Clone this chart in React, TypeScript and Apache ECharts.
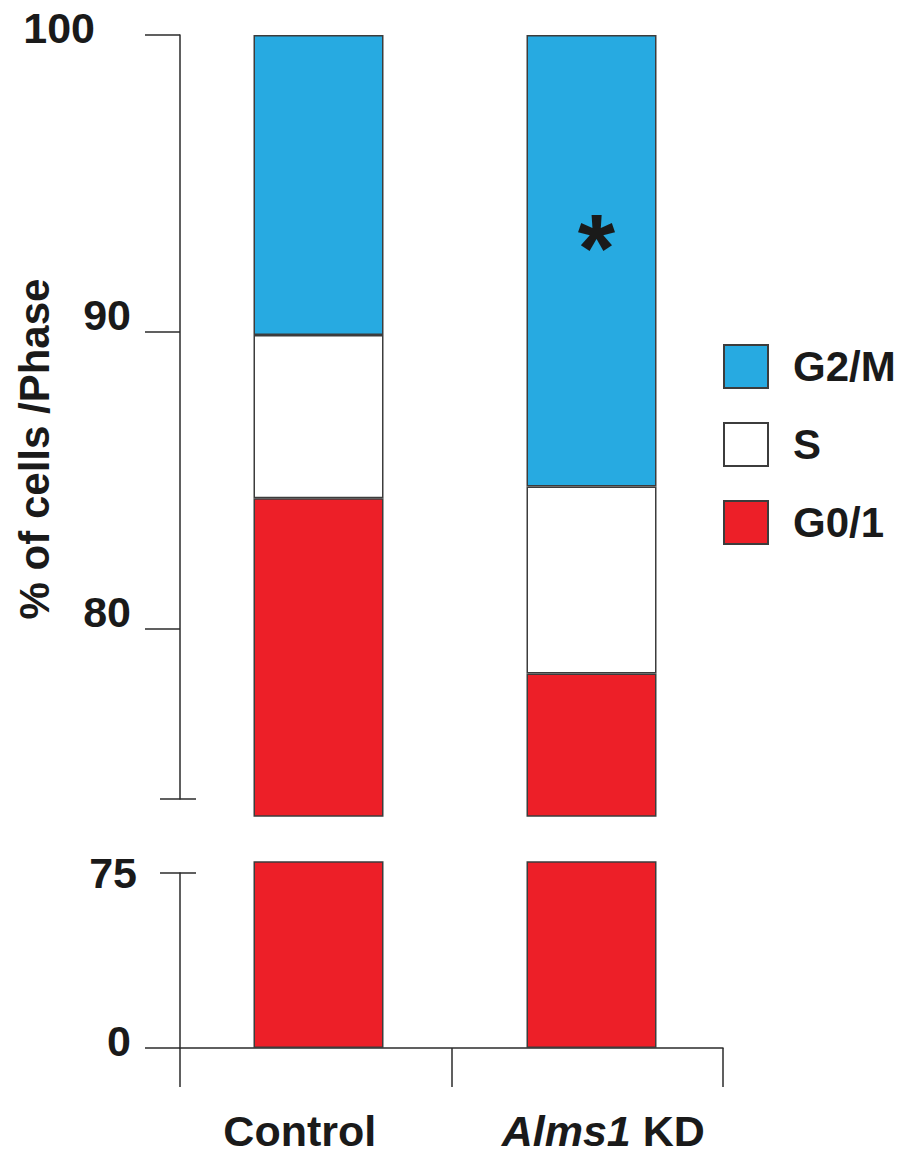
import React, { useEffect, useRef } from 'react';
import * as echarts from 'echarts';

// ---------- data ----------
const categories = ['Control', 'Alms1 KD'];
const phaseNames = ['G2/M', 'S', 'G0/1'];
const g01Values = [84.4, 78.5];
const sValues = [5.5, 6.3];
const g2mValues = [10.1, 15.2];
const significance = ['', '*'];
const upperTicks = [80, 90, 100];
const lowerTicks = [0, 75];
const lowerBreak = 78; // value where the lower panel is cut off

// ---------- style / geometry ----------
const FONT = '"Liberation Sans", Arial, Helvetica, sans-serif';
const INK = '#1a1a1a';
const LINE = '#2b2b2b';
const BORDER = '#3c3c3c';
const COLORS: Record<string, string> = { 'G2/M': '#27AAE1', S: '#FFFFFF', 'G0/1': '#ED1F28' };

const W = 901;
const H = 1157;
const axisLeft = 180;
const axisRight = 178;
const barLeft = 182;
const barRight = 173;

const upperMax = upperTicks[upperTicks.length - 1];
const upperTop = 35;
const upperAxisH = 764;
const upperBarH = 781;
const upperPx = 29.7;
const upperAxisMin = upperMax - upperAxisH / upperPx;
const upperBarMin = upperMax - upperBarH / upperPx;

const lowerAxisTop = 873;
const lowerAxisH = 175;
const lowerBarTop = 862;
const lowerBarH = 186;
const lowerAxisMax = lowerTicks[lowerTicks.length - 1];

const lineStyle = { color: LINE, width: 1.5 };
const numText = { fontSize: 43, fontWeight: 'bold' as const, fontFamily: FONT, color: INK, lineHeight: 43 };

function tickOnly(gridIndex: number, min: number, max: number, value: number, inside: boolean, length: number) {
  return {
    type: 'value', gridIndex, min, max, position: 'left',
    axisLine: { show: false },
    axisLabel: { show: false },
    splitLine: { show: false },
    axisTick: { show: true, inside, length, customValues: [value], lineStyle },
  };
}

function hiddenY(gridIndex: number, min: number, max: number) {
  return { type: 'value', gridIndex, min, max, show: false, splitLine: { show: false } };
}

function hiddenX(gridIndex: number) {
  return { type: 'category', gridIndex, data: categories, show: false };
}

const barBase = { type: 'bar', barWidth: 130, itemStyle: { borderColor: BORDER, borderWidth: 1.5 } };

export default function App() {
  const ref = useRef<HTMLDivElement>(null);
  useEffect(() => {
    document.body.style.margin = '0';
    if (!ref.current) return;
    const chart = echarts.init(ref.current, null, { renderer: 'svg' });
    const option: any = {
      animation: false,
      backgroundColor: '#ffffff',
      grid: [
        { left: axisLeft, right: axisRight, top: upperTop, height: upperAxisH, outerBoundsMode: 'none' },
        { left: barLeft, right: barRight, top: upperTop, height: upperBarH, outerBoundsMode: 'none' },
        { left: axisLeft, right: axisRight, top: lowerAxisTop, height: lowerAxisH, outerBoundsMode: 'none' },
        { left: barLeft, right: barRight, top: lowerBarTop, height: lowerBarH, outerBoundsMode: 'none' },
      ],
      xAxis: [
        hiddenX(0),
        hiddenX(1),
        {
          type: 'category', gridIndex: 2, data: categories, position: 'bottom', boundaryGap: true,
          axisLine: { show: true, lineStyle },
          axisTick: { show: true, length: 39, lineStyle },
          axisLabel: {
            margin: 61,
            interval: 0,
            formatter: (v: string) => {
              const parts = v.split(' ');
              if (parts.length === 1) return `{c|${v}}`;
              return `{i|${parts[0]}}{b| ${parts.slice(1).join(' ')}}`;
            },
            rich: {
              c: { ...numText, padding: [0, 32, 0, 0] },
              i: { ...numText, fontStyle: 'italic', padding: [0, 0, 0, 32] },
              b: { ...numText },
            },
          },
        },
        hiddenX(3),
      ],
      yAxis: [
        {
          type: 'value', gridIndex: 0, min: upperAxisMin, max: upperMax, position: 'left',
          axisLine: { show: true, lineStyle },
          axisTick: { show: true, length: 35, customValues: upperTicks, lineStyle },
          splitLine: { show: false },
          axisLabel: {
            show: true, customValues: upperTicks, margin: 49,
            formatter: (v: number) => (v === upperMax ? `{t|${v}}` : `{n|${v}}`),
            rich: {
              t: { ...numText, padding: [0, 36, 15, 0] },
              n: { ...numText, padding: [0, 0, 34, 0] },
            },
          },
        },
        tickOnly(0, upperAxisMin, upperMax, upperAxisMin, false, 20),
        tickOnly(0, upperAxisMin, upperMax, upperAxisMin, true, 16),
        hiddenY(1, upperBarMin, upperMax),
        {
          type: 'value', gridIndex: 2, min: 0, max: lowerAxisMax, position: 'left',
          axisLine: { show: true, lineStyle },
          axisTick: { show: true, length: 35, customValues: [lowerTicks[0]], lineStyle },
          splitLine: { show: false },
          axisLabel: {
            show: true, customValues: lowerTicks, margin: 43,
            formatter: (v: number) => (v === 0 ? `{z|${v}}` : `{n|${v}}`),
            rich: {
              z: { ...numText, padding: [0, 6, 14, 0] },
              n: { ...numText },
            },
          },
        },
        tickOnly(2, 0, lowerAxisMax, lowerAxisMax, false, 20),
        tickOnly(2, 0, lowerAxisMax, lowerAxisMax, true, 16),
        hiddenY(3, 0, lowerBreak),
      ],
      legend: {
        data: phaseNames,
        orient: 'vertical',
        left: 718,
        top: 339,
        itemWidth: 44,
        itemHeight: 43,
        itemGap: 33,
        icon: 'rect',
        selectedMode: false,
        textStyle: { ...numText, fontSize: 42, padding: [0, 0, 0, 20] },
      },
      graphic: [
        {
          type: 'text', x: 34, y: 449, rotation: Math.PI / 2,
          style: {
            text: '% of cells /Phase', fontSize: 42, fontWeight: 'bold', fontFamily: FONT,
            fill: INK, align: 'center', verticalAlign: 'middle',
          },
        },
      ],
      series: [
        {
          ...barBase, name: 'G0/1', stack: 'upper', xAxisIndex: 1, yAxisIndex: 3, data: g01Values,
          itemStyle: { ...barBase.itemStyle, color: COLORS['G0/1'] },
        },
        {
          ...barBase, name: 'S', stack: 'upper', xAxisIndex: 1, yAxisIndex: 3, data: sValues,
          itemStyle: { ...barBase.itemStyle, color: COLORS.S },
        },
        {
          ...barBase, name: 'G2/M', stack: 'upper', xAxisIndex: 1, yAxisIndex: 3,
          itemStyle: { ...barBase.itemStyle, color: COLORS['G2/M'] },
          data: g2mValues.map((v, i) =>
            significance[i]
              ? {
                  value: v,
                  label: {
                    show: true, formatter: significance[i], position: 'inside', offset: [5, -13],
                    fontSize: 96, fontWeight: 'bold', fontFamily: FONT, color: INK,
                  },
                }
              : v
          ),
        },
        {
          ...barBase, name: 'G0/1', xAxisIndex: 3, yAxisIndex: 7, data: g01Values,
          itemStyle: { ...barBase.itemStyle, color: COLORS['G0/1'] },
        },
      ],
    };
    chart.setOption(option);
    return () => chart.dispose();
  }, []);
  return <div ref={ref} style={{ width: W, height: H }} />;
}
